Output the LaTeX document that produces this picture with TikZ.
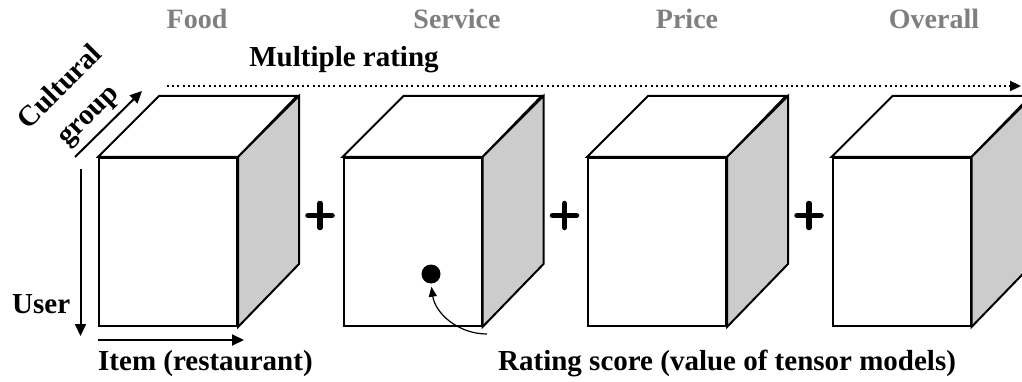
\documentclass[tikz,border=0pt]{standalone}
\usepackage{fontspec}
\setmainfont{Liberation Serif}
\usetikzlibrary{arrows.meta,calc}
\definecolor{sidegray}{HTML}{CCCCCC}
\definecolor{titlegray}{HTML}{7F7F7F}
\tikzset{
  face/.style={draw=black, fill=white, line width=2pt, inner sep=0pt,
    minimum width=138pt, minimum height=168pt, anchor=north west},
  edge/.style={draw=black, line width=2pt, line join=miter},
  label/.style={font=\fontsize{29}{33}\selectfont\bfseries, inner sep=0pt},
  title/.style={label, text=titlegray, font=\fontsize{28}{32}\selectfont\bfseries},
  axis/.style={line width=2pt, -{Triangle[length=12pt,width=11pt]}},
  plusbar/.style={line width=5.5pt, line cap=round},
  pointer/.style={line width=1.2pt, -{Triangle[length=10pt,width=8pt]}}
}
\begin{document}
\begin{tikzpicture}[x=1pt, y=-1pt]
\clip (0,0) rectangle (1022,382);
\fill[white] (0,0) rectangle (1022,382);

% the four rating tensors
\foreach \i/\x in {1/98, 2/342.5, 3/587, 4/831.5} {
  \node[face] (f\i) at (\x,157) {};
  \path[edge, fill=white] (f\i.north west) -- ++(61,-61) -- ++(138,0)
    -- (f\i.north east) -- cycle;
  \path[edge, fill=sidegray] (f\i.north east) -- ++(61,-61) -- ++(0,168)
    -- (f\i.south east) -- cycle;
}

% plus signs between the tensors
\foreach \i/\x in {1/320, 2/564.5, 3/809} {
  \coordinate (p\i) at (\x,215.5);
  \draw[plusbar] ($(p\i)+(-12,0)$) -- ($(p\i)+(12,0)$);
  \draw[plusbar] ($(p\i)+(0,-12)$) -- ($(p\i)+(0,12)$);
}

% criteria titles
\node[title, anchor=base] (tfood) at (197,29) {Food};
\node[title, anchor=base] (tserv) at (457,29) {Service};
\node[title, anchor=base] (tprice) at (687,29) {Price};
\node[title, anchor=base] (tall) at (934,29) {Overall};

% rating dimension
\node[label, anchor=base] (mr) at (344,67) {Multiple rating};
\coordinate (mrs) at (167,86);
\coordinate (mre) at (1021,86);
\draw[line width=2.2pt, dash pattern=on 2pt off 3.2pt,
  -{Triangle[length=11pt,width=10pt]}] (mrs) -- (mre);

% cultural group dimension
\coordinate (cgs) at (75,157);
\coordinate (cge) at (142,91);
\draw[axis] (cgs) -- (cge);
\node[rotate=45, inner sep=0pt, align=center,
  font=\fontsize{29}{39}\selectfont\bfseries]
  (cg) at (75,102) {Cultural\\group};

% user dimension
\coordinate (us) at (80.5,169);
\coordinate (ue) at (80.5,336);
\draw[axis] (us) -- (ue);
\node[label, anchor=base west] (user) at (12,313) {User};

% item dimension
\coordinate (is) at (98,340);
\coordinate (ie) at (244,340);
\draw[axis] (is) -- (ie);
\node[label, anchor=base west] (item) at (98,370) {Item (restaurant)};

% one rating entry
\node[circle, fill=black, inner sep=0pt, minimum size=19pt] (dot) at (431,274) {};
\node[label, anchor=base west] (rs) at (498,370) {Rating score (value of tensor models)};
\draw[pointer, shorten >=3pt] ($(rs.base west)+(-11,-36)$)
  to[out=180, in=-82] (dot.south);
\end{tikzpicture}
\end{document}
